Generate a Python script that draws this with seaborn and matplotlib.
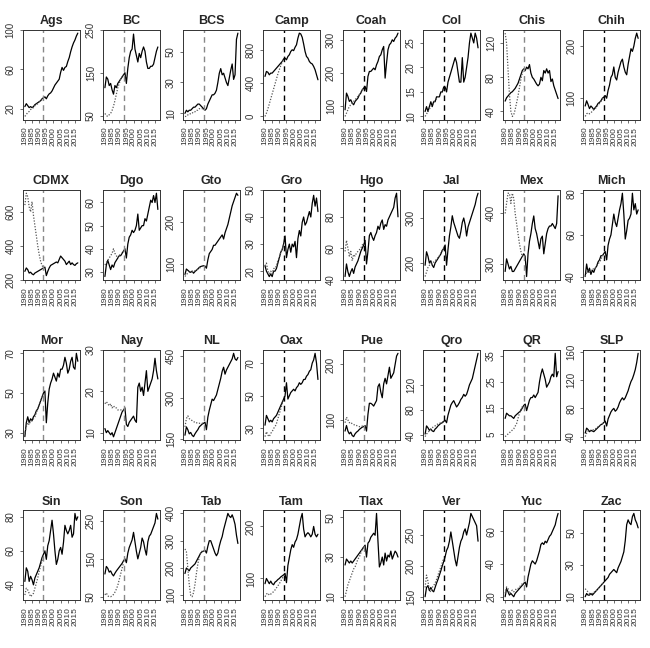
import matplotlib
matplotlib.use("Agg")
import matplotlib.pyplot as plt
import seaborn as sns

# years of the observed series and of the pre-break synthetic fit
YEARS = list(range(1980, 2018))
SYN_YEARS = list(range(1980, 1994))
BREAK_YEAR = 1993
XTICKS = [1980, 1985, 1990, 1995, 2000, 2005, 2010, 2015]

STATES = ["Ags", "BC", "BCS", "Camp", "Coah", "Col", "Chis", "Chih",
          "CDMX", "Dgo", "Gto", "Gro", "Hgo", "Jal", "Mex", "Mich",
          "Mor", "Nay", "NL", "Oax", "Pue", "Qro", "QR", "SLP",
          "Sin", "Son", "Tab", "Tam", "Tlax", "Ver", "Yuc", "Zac"]

# colour of the dashed break line in each panel
BREAK_COLORS = ["gray", "gray", "gray", "black", "black", "black", "gray", "black",
                "gray", "gray", "gray", "black", "black", "black", "gray", "black",
                "gray", "gray", "gray", "black", "gray", "black", "gray", "black",
                "gray", "gray", "gray", "black", "gray", "black", "gray", "black"]

AGS = [22, 25, 23, 21, 22, 21, 22, 24, 25, 26, 27, 28, 30, 31, 32, 30, 33, 35, 36, 38,
       41, 44, 46, 48, 50, 57, 62, 59, 62, 63, 68, 72, 78, 83, 87, 90, 94, 97]
AGS_SYN = [12, 14, 16, 17, 19, 20, 21, 23, 24, 25, 27, 28, 29, 31]
BC = [115, 140, 135, 120, 125, 110, 100, 120, 115, 125, 130, 135, 140, 145, 150, 125, 160, 185, 200, 205,
      240, 205, 190, 175, 195, 185, 200, 210, 200, 175, 160, 160, 165, 165, 170, 185, 200, 210]
BC_SYN = [55, 50, 48, 52, 55, 62, 72, 85, 100, 115, 125, 135, 140, 145]
BCS = [10, 12, 11, 12, 12, 13, 14, 14, 15, 16, 16, 15, 14, 13, 12, 13, 16, 18, 20, 22,
       22, 23, 25, 30, 36, 39, 35, 36, 33, 30, 28, 33, 38, 42, 32, 35, 58, 62]
BCS_SYN = [8, 8, 9, 9, 10, 10, 11, 11, 12, 12, 13, 13, 13, 13]
CAMP = [480, 540, 530, 500, 520, 520, 540, 560, 580, 600, 620, 640, 660, 690, 700, 680, 720, 740, 780, 800,
        790, 830, 860, 940, 1000, 990, 950, 870, 780, 720, 700, 660, 640, 630, 600, 560, 500, 440]
CAMP_SYN = [0, 40, 90, 150, 210, 270, 330, 390, 450, 510, 560, 610, 650, 690]
COAH = [90, 140, 130, 115, 120, 110, 105, 115, 120, 125, 135, 140, 150, 155, 160, 145, 190, 205, 205, 210,
        215, 210, 225, 235, 250, 255, 270, 280, 185, 230, 270, 285, 290, 300, 295, 305, 310, 320]
COAH_SYN = [70, 80, 90, 100, 105, 110, 115, 120, 125, 130, 135, 142, 148, 155]
COL = [11, 12, 11, 12, 13, 12, 13, 13, 14, 14, 14, 15, 15, 16, 16, 15, 17, 18, 19, 20,
       21, 22, 21, 19, 17, 17, 22, 17, 18, 20, 22, 25, 27, 26, 25, 27, 26, 24]
COL_SYN = [10, 10.5, 11, 11.5, 12, 12.5, 13, 13.3, 13.6, 14, 14.3, 14.7, 15, 15.5]
CHIS = [52, 56, 58, 60, 62, 63, 65, 67, 70, 73, 78, 83, 88, 90, 88, 92, 90, 95, 85, 80,
        78, 75, 72, 70, 72, 80, 76, 88, 85, 90, 85, 88, 75, 78, 70, 65, 60, 55]
CHIS_SYN = [132, 120, 90, 60, 40, 34, 36, 42, 50, 58, 68, 78, 85, 90]
CHIH = [85, 95, 88, 80, 85, 82, 78, 82, 85, 90, 92, 95, 100, 102, 105, 100, 115, 125, 140, 145,
        160, 140, 135, 150, 160, 170, 175, 160, 150, 145, 165, 180, 195, 190, 200, 215, 225, 215]
CHIH_SYN = [65, 70, 72, 70, 72, 75, 78, 80, 83, 87, 90, 94, 98, 102]

CDMX = [250, 270, 260, 240, 245, 235, 230, 240, 245, 250, 255, 260, 265, 270, 275, 225, 250, 270, 285, 290,
        295, 300, 305, 300, 320, 340, 330, 320, 310, 290, 300, 310, 290, 300, 290, 285, 295, 300]
CDMX_SYN = [640, 710, 690, 630, 600, 660, 580, 520, 460, 400, 350, 310, 285, 270]
DGO = [28, 33, 35, 33, 31, 33, 32, 34, 35, 36, 37, 37, 38, 39, 40, 36, 42, 45, 46, 48,
       47, 48, 50, 55, 48, 49, 50, 50, 53, 52, 55, 58, 61, 60, 63, 60, 64, 57]
DGO_SYN = [33, 34, 35, 36, 37, 38, 40, 38, 37, 36, 37, 38, 38, 39]
GTO = [75, 88, 85, 82, 80, 83, 78, 82, 85, 88, 92, 94, 95, 96, 95, 90, 110, 125, 130, 135,
       145, 145, 150, 155, 160, 165, 170, 160, 175, 185, 195, 210, 225, 240, 250, 260, 270, 265]
GTO_SYN = [70, 75, 78, 80, 81, 82, 83, 84, 86, 88, 90, 92, 94, 96]
GRO = [22, 20, 19, 18, 19, 18, 20, 20, 21, 23, 25, 27, 28, 30, 33, 25, 28, 30, 27, 30,
       29, 31, 25, 32, 35, 33, 38, 40, 37, 38, 40, 42, 40, 45, 48, 44, 47, 42]
GRO_SYN = [22, 23, 20, 19, 20, 19, 21, 21, 22, 24, 25, 27, 28, 30]
HGO = [42, 50, 45, 42, 45, 47, 44, 48, 50, 52, 55, 58, 60, 62, 65, 50, 58, 68, 70, 67,
       65, 68, 70, 74, 72, 76, 78, 72, 75, 74, 78, 80, 82, 84, 86, 92, 95, 80]
HGO_SYN = [58, 65, 60, 55, 58, 52, 56, 55, 57, 58, 59, 60, 62, 63]
JAL = [195, 225, 215, 200, 205, 195, 190, 200, 205, 210, 215, 220, 228, 232, 240, 195, 230, 260, 280, 305,
       290, 280, 270, 260, 255, 270, 290, 300, 285, 260, 280, 290, 300, 310, 320, 330, 345, 355]
JAL_SYN = [170, 180, 190, 195, 200, 200, 202, 205, 208, 212, 216, 222, 228, 234]
MEX = [285, 310, 300, 290, 295, 285, 285, 290, 295, 300, 305, 310, 315, 320, 315, 275, 320, 345, 360, 380,
       395, 370, 360, 345, 330, 350, 355, 320, 340, 360, 370, 375, 375, 380, 375, 370, 380, 435]
MEX_SYN = [400, 420, 440, 440, 420, 440, 430, 400, 380, 360, 340, 325, 315, 318]
MICH = [40, 46, 42, 44, 41, 43, 42, 44, 45, 47, 48, 50, 50, 51, 52, 48, 55, 58, 60, 65,
        70, 66, 64, 68, 72, 75, 80, 70, 58, 62, 67, 68, 70, 80, 72, 75, 70, 72]
MICH_SYN = [40, 42, 43, 42, 43, 43, 44, 44, 45, 46, 47, 48, 50, 51]

MOR = [28, 35, 38, 35, 37, 36, 38, 39, 41, 42, 44, 46, 48, 50, 51, 35, 45, 52, 55, 57,
       60, 58, 56, 60, 58, 62, 62, 64, 68, 65, 60, 62, 66, 68, 63, 62, 70, 66]
MOR_SYN = [30, 33, 35, 34, 36, 36, 37, 38, 40, 42, 44, 46, 48, 50]
NAY = [11, 10, 10.5, 10, 9.5, 10, 9, 10, 11, 12, 13, 14, 15, 15.5, 16, 12, 11.5, 12.5, 13, 13.5,
       14, 13, 12.5, 21, 22, 20, 21, 19, 22, 25, 20, 21, 22, 23, 25, 28, 25, 23]
NAY_SYN = [17, 17.5, 17, 16.5, 17, 16, 16.5, 16, 16, 15.5, 15.5, 15.5, 15.5, 15.5]
NL = [165, 195, 185, 170, 175, 165, 160, 170, 178, 185, 195, 200, 205, 208, 212, 185, 230, 255, 275, 295,
      290, 300, 310, 330, 350, 370, 395, 410, 385, 400, 410, 420, 430, 440, 460, 440, 435, 445]
NL_SYN = [195, 225, 235, 225, 220, 218, 215, 210, 210, 208, 208, 208, 208, 210]
OAX = [32, 38, 36, 34, 35, 34, 36, 37, 38, 40, 42, 44, 46, 48, 50, 58, 48, 50, 52, 53,
       54, 53, 55, 56, 58, 57, 58, 60, 60, 62, 63, 65, 66, 70, 72, 76, 70, 60]
OAX_SYN = [25, 28, 26, 25, 27, 28, 30, 31, 33, 36, 39, 42, 45, 48]
PUE = [80, 90, 80, 75, 78, 72, 70, 75, 78, 80, 83, 85, 87, 88, 90, 80, 110, 130, 130, 128,
       125, 130, 135, 160, 165, 150, 140, 165, 175, 165, 180, 195, 175, 180, 185, 200, 215, 220]
PUE_SYN = [95, 105, 100, 95, 96, 93, 92, 90, 90, 89, 88, 88, 89, 90]
QRO = [42, 55, 52, 48, 50, 47, 46, 50, 52, 55, 57, 59, 60, 62, 64, 60, 72, 80, 88, 92,
       95, 90, 85, 88, 92, 97, 100, 105, 102, 105, 112, 120, 125, 130, 140, 150, 160, 170]
QRO_SYN = [38, 42, 45, 47, 50, 52, 54, 55, 57, 58, 59, 60, 61, 62]
QR = [11, 13, 12.5, 12, 12, 11.5, 11, 12, 12.5, 13, 13.5, 14, 15, 16, 16.5, 14, 16, 18, 19, 19,
      20, 19, 20, 21, 25, 28, 30, 28, 26, 23, 24, 25, 27, 28, 27, 36, 27, 29]
QR_SYN = [4, 4.5, 5, 5.5, 6, 6.5, 7, 8, 9, 11, 13, 14.5, 15.5, 16]
SLP = [45, 52, 50, 47, 49, 48, 47, 49, 51, 53, 55, 57, 58, 60, 62, 55, 65, 70, 75, 78,
       80, 76, 78, 82, 88, 92, 95, 92, 95, 100, 105, 112, 118, 122, 128, 135, 145, 158]
SLP_SYN = [40, 45, 48, 47, 48, 49, 50, 51, 52, 54, 55, 57, 58, 60]

SIN = [42, 50, 48, 42, 45, 43, 40, 44, 46, 48, 50, 53, 56, 58, 60, 55, 63, 66, 72, 78,
       70, 60, 52, 55, 60, 62, 58, 65, 75, 72, 70, 72, 75, 68, 70, 82, 78, 80]
SIN_SYN = [34, 38, 37, 35, 33, 34, 35, 38, 41, 44, 48, 51, 54, 57]
SON = [110, 130, 125, 115, 118, 110, 105, 112, 118, 123, 128, 133, 138, 145, 150, 140, 165, 180, 190, 200,
       220, 195, 170, 150, 165, 180, 205, 195, 175, 160, 195, 210, 215, 225, 235, 245, 270, 255]
SON_SYN = [55, 60, 52, 50, 50, 52, 56, 62, 70, 80, 95, 110, 125, 140]
TAB = [180, 200, 195, 190, 200, 205, 210, 215, 225, 235, 245, 255, 260, 262, 265, 255, 280, 300, 300, 285,
       270, 255, 245, 255, 280, 300, 315, 340, 360, 380, 400, 390, 385, 395, 380, 360, 320, 290]
TAB_SYN = [270, 260, 200, 140, 100, 95, 110, 140, 180, 215, 240, 255, 262, 265]
TAM = [90, 100, 95, 90, 95, 90, 88, 93, 95, 98, 100, 103, 105, 107, 110, 92, 125, 140, 155, 165,
       160, 170, 175, 185, 200, 215, 225, 195, 180, 185, 188, 185, 180, 185, 200, 185, 180, 185]
TAM_SYN = [65, 70, 72, 68, 70, 72, 75, 78, 82, 86, 90, 95, 100, 105]
TLAX = [26, 29, 28, 27, 28, 27, 28, 29, 30, 31, 32, 33, 34, 35, 36, 30, 37, 38, 40, 41,
        42, 41, 52, 38, 25, 27, 30, 26, 32, 28, 31, 30, 33, 29, 31, 33, 32, 30]
TLAX_SYN = [10, 13, 16, 18, 20, 22, 24, 25, 27, 29, 30, 32, 34, 35]
VER = [150, 165, 168, 160, 165, 160, 158, 165, 172, 178, 185, 192, 200, 207, 215, 225, 230, 240, 255, 240,
       225, 210, 200, 215, 230, 240, 245, 255, 260, 250, 260, 270, 285, 280, 275, 270, 265, 240]
VER_SYN = [165, 185, 175, 160, 158, 165, 168, 172, 178, 185, 192, 198, 205, 212]
YUC = [20, 25, 23, 21, 22, 21, 20, 22, 23, 24, 25, 26, 27, 28, 29, 26, 32, 36, 40, 42,
       41, 40, 42, 45, 48, 52, 53, 52, 54, 53, 55, 57, 58, 60, 62, 64, 68, 71]
YUC_SYN = [22, 26, 25, 22, 23, 24, 23, 24, 25, 25, 26, 27, 28, 29]
ZAC = [10, 12, 11, 11, 12, 11, 12, 13, 14, 15, 16, 17, 18, 19, 20, 21, 22, 24, 25, 26,
       27, 26, 25, 28, 30, 32, 35, 38, 45, 55, 58, 56, 55, 60, 62, 58, 56, 53]
ZAC_SYN = [15, 14, 13, 12, 12, 12, 13, 13, 14, 15, 16, 17, 18, 19]

# labelled y ticks of each panel
YTICKS = {
    "Ags": [20, 60, 100], "BC": [50, 150, 250], "BCS": [10, 30, 50], "Camp": [0, 400, 800],
    "Coah": [100, 200, 300], "Col": [10, 15, 20, 25], "Chis": [40, 80, 120], "Chih": [100, 200],
    "CDMX": [200, 400, 600], "Dgo": [30, 40, 50, 60], "Gto": [100, 200], "Gro": [20, 30, 40, 50],
    "Hgo": [40, 60, 80], "Jal": [200, 300], "Mex": [300, 400], "Mich": [40, 60, 80],
    "Mor": [30, 50, 70], "Nay": [10, 20, 30], "NL": [150, 300, 450], "Oax": [30, 50, 70],
    "Pue": [100, 200], "Qro": [40, 80, 120], "QR": [5, 15, 25, 35], "SLP": [40, 80, 120, 160],
    "Sin": [40, 60, 80], "Son": [50, 150, 250], "Tab": [100, 200, 300, 400], "Tam": [100, 200],
    "Tlax": [10, 30, 50], "Ver": [150, 200, 250], "Yuc": [20, 40, 60], "Zac": [10, 30, 50],
}

SERIES = {
    "Ags": (AGS, AGS_SYN), "BC": (BC, BC_SYN), "BCS": (BCS, BCS_SYN), "Camp": (CAMP, CAMP_SYN),
    "Coah": (COAH, COAH_SYN), "Col": (COL, COL_SYN), "Chis": (CHIS, CHIS_SYN), "Chih": (CHIH, CHIH_SYN),
    "CDMX": (CDMX, CDMX_SYN), "Dgo": (DGO, DGO_SYN), "Gto": (GTO, GTO_SYN), "Gro": (GRO, GRO_SYN),
    "Hgo": (HGO, HGO_SYN), "Jal": (JAL, JAL_SYN), "Mex": (MEX, MEX_SYN), "Mich": (MICH, MICH_SYN),
    "Mor": (MOR, MOR_SYN), "Nay": (NAY, NAY_SYN), "NL": (NL, NL_SYN), "Oax": (OAX, OAX_SYN),
    "Pue": (PUE, PUE_SYN), "Qro": (QRO, QRO_SYN), "QR": (QR, QR_SYN), "SLP": (SLP, SLP_SYN),
    "Sin": (SIN, SIN_SYN), "Son": (SON, SON_SYN), "Tab": (TAB, TAB_SYN), "Tam": (TAM, TAM_SYN),
    "Tlax": (TLAX, TLAX_SYN), "Ver": (VER, VER_SYN), "Yuc": (YUC, YUC_SYN), "Zac": (ZAC, ZAC_SYN),
}

sns.set_style("ticks")
plt.rcParams["font.family"] = ["Liberation Sans", "DejaVu Sans"]

fig, axes = plt.subplots(4, 8, figsize=(6.5, 6.48), dpi=100)
fig.subplots_adjust(left=0.035, right=0.985, top=0.954, bottom=0.074,
                    wspace=0.40, hspace=0.78)

for ax, state, bcol in zip(axes.flat, STATES, BREAK_COLORS):
    actual, synth = SERIES[state]
    sns.lineplot(x=YEARS, y=actual, ax=ax, color="black", lw=0.9)
    sns.lineplot(x=SYN_YEARS, y=synth, ax=ax, color="#555555", lw=0.9,
                 linestyle=(0, (1, 1.3)))
    ax.margins(x=0.04, y=0.04)
    ax.axvline(BREAK_YEAR, color="#888888" if bcol == "gray" else "black",
               lw=1.0, linestyle=(0, (4, 3)))
    ax.set_title(state, fontsize=9, fontweight="bold", pad=4)
    ax.set_xticks(XTICKS)
    ax.set_xticklabels([str(t) for t in XTICKS], rotation=90, fontsize=6, color="#222222")
    ax.set_yticks(YTICKS[state])
    ax.set_yticklabels([str(t) for t in YTICKS[state]], rotation=90, va="center",
                       fontsize=7, color="#222222")
    ax.tick_params(length=2.5, width=0.5, pad=2.5, colors="#333333")
    for sp in ax.spines.values():
        sp.set_color("#333333")
        sp.set_linewidth(0.7)

fig.savefig("out.png", dpi=100)
